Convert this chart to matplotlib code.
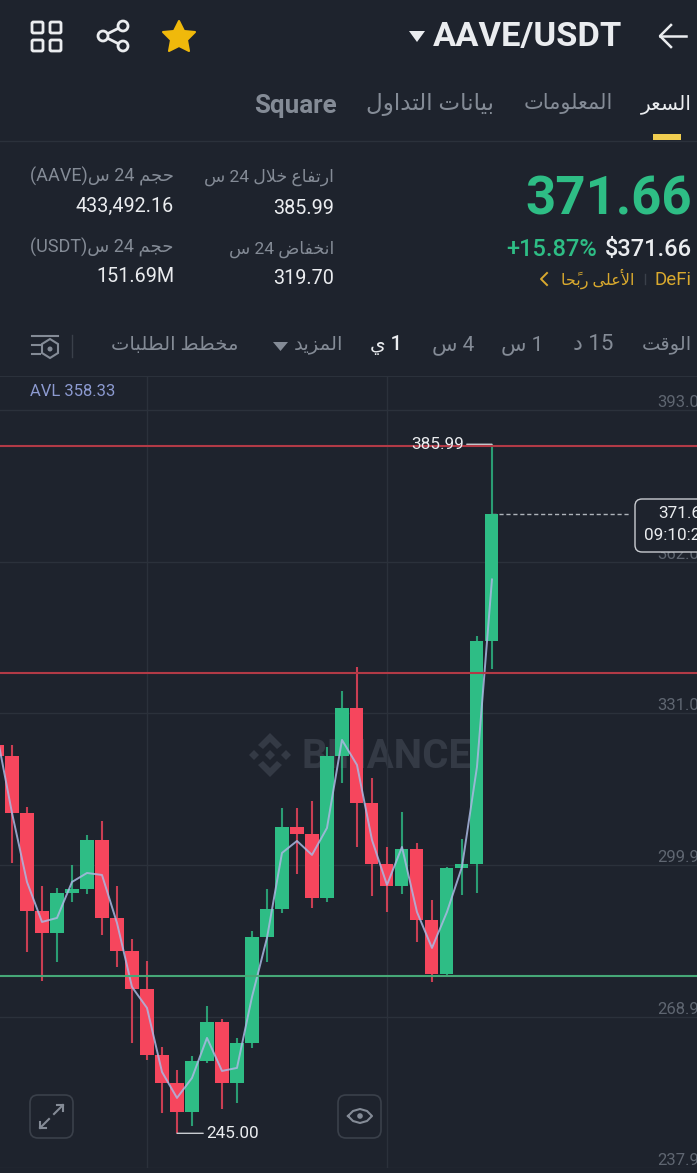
import re
import matplotlib
matplotlib.use("Agg")
import matplotlib.pyplot as plt
from matplotlib.patches import Circle, FancyBboxPatch, Polygon, Rectangle

plt.rcParams['font.family'] = ['Roboto', 'DejaVu Sans']

# candles, one per day
opens = [324.46, 322.21, 310.55, 290.50, 286.00, 294.18, 295.00, 305.03, 289.07, 282.32, 274.54, 261.04, 255.31,
         249.37, 259.81, 267.79, 255.31, 263.49, 285.18, 290.91, 307.69, 306.25, 293.16, 322.21, 332.03, 312.60,
         300.12, 295.61, 303.18, 288.66, 277.61, 299.30, 300.12, 345.74]
highs = [325.49, 324.46, 311.78, 295.61, 295.21, 299.91, 306.05, 308.91, 295.61, 284.77, 280.27, 262.67, 257.97,
         260.83, 271.06, 268.40, 264.52, 286.41, 295.00, 311.57, 311.57, 313.01, 324.05, 335.51, 340.42, 317.71,
         303.59, 310.75, 304.41, 292.75, 299.50, 305.23, 346.76, 385.99]
lows = [322.21, 300.32, 282.11, 276.18, 280.06, 292.34, 293.98, 285.59, 279.04, 263.49, 260.01, 249.17, 245.00,
        246.51, 259.40, 249.99, 251.22, 262.47, 280.06, 290.09, 298.07, 291.11, 292.34, 316.69, 303.59, 293.57,
        290.29, 293.98, 284.16, 275.97, 277.00, 293.77, 294.18, 340.01]
closes = [322.21, 310.55, 290.50, 286.00, 294.18, 295.00, 305.03, 289.07, 282.32, 274.54, 261.04, 255.31, 249.37,
          259.81, 267.79, 255.31, 263.49, 285.18, 290.91, 307.69, 306.25, 293.16, 322.21, 332.03, 312.60, 300.12,
          295.61, 303.18, 288.66, 277.61, 299.30, 300.12, 345.74, 371.66]
avl = [326.51, 310.55, 296.43, 288.25, 289.07, 296.43, 298.27, 297.86, 288.04, 274.95, 270.65, 257.56, 252.24,
       256.33, 264.52, 257.76, 258.38, 272.90, 284.98, 302.37, 304.82, 301.96, 307.48, 325.49, 320.37, 305.03,
       295.82, 303.59, 290.29, 282.93, 290.29, 299.50, 319.96, 358.33]

price_ticks = [393.0, 362.0, 331.0, 299.9, 268.9, 237.9]
red_levels = [385.6, 339.2]
green_levels = [277.2]
grid_days = [10, 26]

tabs = ["السعر", "المعلومات", "بيانات التداول"]
periods = ["الوقت", "15 د", "1 س", "4 س", "1 ي", "المزيد", "مخطط الطلبات"]

BG = '#1e232d'
GREEN = '#2ebd85'
RED = '#f6465d'
GREY = '#848b96'
WHITE = '#eaecef'
YELLOW = '#f0b90b'

# matplotlib does no arabic shaping, so pick the presentation forms by hand
FORMS = {
    'ا': ('\ufe8d', '\ufe8e', None, None), 'أ': ('\ufe83', '\ufe84', None, None),
    'ب': ('\ufe8f', '\ufe90', '\ufe91', '\ufe92'), 'ت': ('\ufe95', '\ufe96', '\ufe97', '\ufe98'),
    'ج': ('\ufe9d', '\ufe9e', '\ufe9f', '\ufea0'), 'ح': ('\ufea1', '\ufea2', '\ufea3', '\ufea4'),
    'خ': ('\ufea5', '\ufea6', '\ufea7', '\ufea8'), 'د': ('\ufea9', '\ufeaa', None, None),
    'ر': ('\ufead', '\ufeae', None, None), 'ز': ('\ufeaf', '\ufeb0', None, None),
    'س': ('\ufeb1', '\ufeb2', '\ufeb3', '\ufeb4'), 'ض': ('\ufebd', '\ufebe', '\ufebf', '\ufec0'),
    'ط': ('\ufec1', '\ufec2', '\ufec3', '\ufec4'), 'ع': ('\ufec9', '\ufeca', '\ufecb', '\ufecc'),
    'ف': ('\ufed1', '\ufed2', '\ufed3', '\ufed4'), 'ق': ('\ufed5', '\ufed6', '\ufed7', '\ufed8'),
    'ل': ('\ufedd', '\ufede', '\ufedf', '\ufee0'), 'م': ('\ufee1', '\ufee2', '\ufee3', '\ufee4'),
    'ن': ('\ufee5', '\ufee6', '\ufee7', '\ufee8'), 'و': ('\ufeed', '\ufeee', None, None),
    'ى': ('\ufeef', '\ufef0', None, None), 'ي': ('\ufef1', '\ufef2', '\ufef3', '\ufef4'),
}
LAM_ALEF = {'ا': ('\ufefb', '\ufefc'), 'أ': ('\ufef7', '\ufef8')}
MARKS = '\u064b'


def shape_run(run):
    letters = list(run)
    out = []
    joined = False
    i = 0
    while i < len(letters):
        c = letters[i]
        if c in MARKS:
            out[-1] += c
            i += 1
            continue
        if c not in FORMS:
            out.append(c)
            joined = False
            i += 1
            continue
        j = i + 1
        while j < len(letters) and letters[j] in MARKS:
            j += 1
        nxt = letters[j] if j < len(letters) else ''
        if c == 'ل' and nxt in LAM_ALEF:
            out.append(LAM_ALEF[nxt][1 if joined else 0])
            joined = False
            i = j + 1
            continue
        f = FORMS[c]
        link = f[2] is not None and nxt in FORMS
        if joined and link:
            out.append(f[3])
        elif joined:
            out.append(f[1])
        elif link:
            out.append(f[2])
        else:
            out.append(f[0])
        joined = link
        i += 1
    return ''.join(reversed(out))


def ar(text):
    runs = re.findall(r'[A-Za-z0-9.,()/]+|[^A-Za-z0-9.,()/]+', text)
    return ''.join(r if re.match(r'[A-Za-z0-9.,()/]', r) else shape_run(r) for r in reversed(runs))


W, H = 697, 1173
fig = plt.figure(figsize=(W / 100, H / 100), dpi=100, facecolor=BG)

# back layer just for the watermark, price chart in the middle, app ui on top
back = fig.add_axes([0, 0, 1, 1], zorder=0)
ax = fig.add_axes([0, (H - 1168) / H, 1, (1168 - 376) / H], zorder=1)
ui = fig.add_axes([0, 0, 1, 1], zorder=2)
for a in (back, ui):
    a.set_xlim(0, W)
    a.set_ylim(H, 0)
    a.axis('off')
back.patch.set_alpha(0)
ui.patch.set_alpha(0)

# watermark
WM = '#343a45'
lx, ly = 270, 755
for dx, dy in [(0, 0), (-16, 0), (16, 0)]:
    back.add_patch(Polygon([(lx + dx, ly + dy - 5), (lx + dx + 5, ly + dy), (lx + dx, ly + dy + 5), (lx + dx - 5, ly + dy)], color=WM, lw=0))
for s in (-1, 1):
    back.add_patch(Polygon([(lx, ly + s * 22), (lx + 12, ly + s * 10), (lx + 7, ly + s * 6), (lx, ly + s * 13),
                            (lx - 7, ly + s * 6), (lx - 12, ly + s * 10)], color=WM, lw=0))
back.text(302, 757, "BINANCE", color=WM, fontsize=29, fontweight='bold', va='center', ha='left')

# chart
ax.set_facecolor('none')
ax.set_xlim(0.2, 46.67)
ax.set_ylim(237.9, 399.96)
for s in ax.spines.values():
    s.set_visible(False)
ax.spines['top'].set_visible(True)
ax.spines['top'].set_color('#2b313b')
ax.set_xticks(grid_days)
ax.set_xticklabels([])
ax.yaxis.tick_right()
ax.set_yticks(price_ticks)
ax.set_yticklabels([f"{p:.1f}" for p in price_ticks])
ax.tick_params(axis='both', length=0)
ax.tick_params(axis='y', pad=-28.5, labelsize=12, labelcolor='#5f6671')
for t in ax.get_yticklabels():
    t.set_va('bottom')
ax.grid(True, color='#2b313b', lw=1)
ax.set_axisbelow(True)

for i in range(len(opens)):
    col = GREEN if closes[i] >= opens[i] else RED
    ax.vlines(i, lows[i], highs[i], color=col, lw=1.5, alpha=0.8, zorder=2)
    ax.bar(i, abs(closes[i] - opens[i]), bottom=min(opens[i], closes[i]), width=0.87, color=col, lw=0, zorder=3)

ax.plot(range(len(avl)), avl, color='#aab8e2', lw=1.4, alpha=0.85, zorder=4)

for lv in red_levels:
    ax.axhline(lv, color='#b23a46', lw=1.5, zorder=5)
for lv in green_levels:
    ax.axhline(lv, color='#46a877', lw=1.5, zorder=5)

last = len(closes) - 1
ax.hlines(closes[-1], last, 42.2, color='#aeb3ba', lw=1, linestyles=(0, (3, 2)), zorder=2)
arrow = dict(arrowstyle='-', color='#c9ccd1', lw=1, shrinkA=0, shrinkB=0)
ax.annotate(f"{max(highs):.2f}", xy=(last, max(highs)), xytext=(-28, 0), textcoords='offset pixels',
            color=WHITE, fontsize=12.3, ha='right', va='center', arrowprops=arrow, zorder=6)
low_i = lows.index(min(lows))
ax.annotate(f"{min(lows):.2f}", xy=(low_i, min(lows)), xytext=(29, 0), textcoords='offset pixels',
            color=WHITE, fontsize=12.3, ha='left', va='center', arrowprops=arrow, zorder=6)

# ---- ui on top, pixel coordinates ----
ui.text(30, 391, f"AVL {avl[-1]}", color='#8c9ad0', fontsize=12, va='center')

# header
for x in (31, 49):
    for y in (21, 39):
        ui.add_patch(FancyBboxPatch((x + 1, y + 1), 11, 11, boxstyle='round,pad=0,rounding_size=1.5', fc='none', ec=WHITE, lw=2))
share = [(103, 36), (123, 26), (123, 46)]
ui.plot([share[1][0], share[0][0], share[2][0]], [share[1][1], share[0][1], share[2][1]], color=WHITE, lw=2)
for c in share:
    ui.add_patch(Circle(c, 5, fc=BG, ec=WHITE, lw=2, zorder=3))
star = [(179, 21), (184, 31), (195, 32), (187, 40), (189, 51), (179, 46), (169, 51), (171, 40), (163, 32), (174, 31)]
ui.add_patch(Polygon(star, fc=YELLOW, ec=YELLOW, lw=1.5, joinstyle='round'))
ui.add_patch(Polygon([(409, 31), (425, 31), (417, 42)], fc=WHITE, lw=0))
ui.text(622, 37, "AAVE/USDT", color=WHITE, fontsize=24.8, fontweight='bold', ha='right', va='center')
ui.plot([660, 686], [36, 36], color=WHITE, lw=1.8)
ui.plot([671, 660, 671], [25, 36, 47], color=WHITE, lw=1.8)

# tabs
ui.text(692, 104, ar(tabs[0]), color=WHITE, fontsize=14.5, ha='right', va='center')
ui.text(613, 104, ar(tabs[1]), color=GREY, fontsize=15, ha='right', va='center')
ui.text(494, 104, ar(tabs[2]), color=GREY, fontsize=16.7, ha='right', va='center')
ui.text(337, 106, "Square", color=GREY, fontsize=18.7, fontweight='bold', ha='right', va='center')
ui.add_patch(Rectangle((653, 134), 28, 6, color='#f0cd50', lw=0))
ui.plot([0, W], [141, 141], color='#2b313b', lw=1)

# price block
ui.text(692, 200, "371.66", color=GREEN, fontsize=38, fontweight='bold', ha='right', va='center')
ui.text(692, 250, "$371.66", color=WHITE, fontsize=17, fontweight='medium', ha='right', va='center')
ui.text(597, 250, "+15.87%", color=GREEN, fontsize=17, fontweight='medium', ha='right', va='center')
ui.text(692, 280, "DeFi", color='#d9a92e', fontsize=13.5, ha='right', va='center')
ui.plot([645, 645], [274, 284], color='#3a404a', lw=1)
ui.text(634, 279, ar("الأعلى ربحًا"), color='#d9a92e', fontsize=11.5, ha='right', va='center')
ui.plot([547, 541, 547], [273, 279, 285], color='#d9a92e', lw=1.4)

ui.text(334, 177, ar("ارتفاع خلال 24 س"), color=GREY, fontsize=12.5, ha='right', va='center')
ui.text(334, 208, "385.99", color=WHITE, fontsize=14.2, ha='right', va='center')
ui.text(334, 249, ar("انخفاض 24 س"), color=GREY, fontsize=12.5, ha='right', va='center')
ui.text(334, 279, "319.70", color=WHITE, fontsize=14.2, ha='right', va='center')
ui.text(174, 176, ar("حجم 24 س(AAVE)"), color=GREY, fontsize=13, ha='right', va='center')
ui.text(174, 206, "433,492.16", color=WHITE, fontsize=14.2, ha='right', va='center')
ui.text(174, 247, ar("حجم 24 س(USDT)"), color=GREY, fontsize=13, ha='right', va='center')
ui.text(174, 276, "151.69M", color=WHITE, fontsize=14.2, ha='right', va='center')

# period row
period_right = [692, 613, 543, 474, 402, 343, 238]
period_size = [14, 16, 15, 15, 14.5, 14, 14]
for i, p in enumerate(periods):
    on = p == "1 ي"
    ui.text(period_right[i], 345, ar(p), color=WHITE if on else GREY, fontsize=period_size[i], ha='right', va='center',
            fontweight='medium' if on else 'normal')
ui.add_patch(Polygon([(273, 342), (288, 342), (280.5, 351)], fc=GREY, lw=0))
ui.plot([72, 72], [335, 357], color='#3a404a', lw=1)
for y, x1 in [(336, 58), (345, 40), (354, 40)]:
    ui.plot([32, x1], [y, y], color=GREY, lw=1.5)
ui.add_patch(Polygon([(50, 339), (58, 344), (58, 353), (50, 358), (42, 353), (42, 344)], fc='none', ec=GREY, lw=1.5))
ui.add_patch(Circle((50, 349), 2.5, fc=GREY, lw=0))

# callout on the last price
ui.add_patch(FancyBboxPatch((635, 499), 90, 53, boxstyle='round,pad=0,rounding_size=7', fc=BG, ec='#c9ccd1', lw=1, zorder=6))
ui.text(658, 514, "371.66", color=WHITE, fontsize=12.3, va='center', zorder=7)
ui.text(644, 536, "09:10:22", color=WHITE, fontsize=12.3, va='center', zorder=7)

# bottom buttons
for x in (30, 338):
    ui.add_patch(FancyBboxPatch((x, 1095), 43, 43, boxstyle='round,pad=0,rounding_size=8', fc=BG, ec='#3a404a', lw=1.2))
ui.plot([40, 49], [1128, 1119], color=GREY, lw=1.5)
ui.plot([54, 63], [1114, 1105], color=GREY, lw=1.5)
ui.plot([40, 40, 46], [1122, 1128, 1128], color=GREY, lw=1.5)
ui.plot([57, 63, 63], [1105, 1105, 1111], color=GREY, lw=1.5)
ui.plot([348, 353, 360, 367, 372, 367, 360, 353, 348], [1116, 1111, 1109, 1111, 1116, 1121, 1123, 1121, 1116], color=GREY, lw=1.5)
ui.add_patch(Circle((360, 1116), 2.8, fc=GREY, lw=0))

fig.savefig("out.png", dpi=100, facecolor=BG)
